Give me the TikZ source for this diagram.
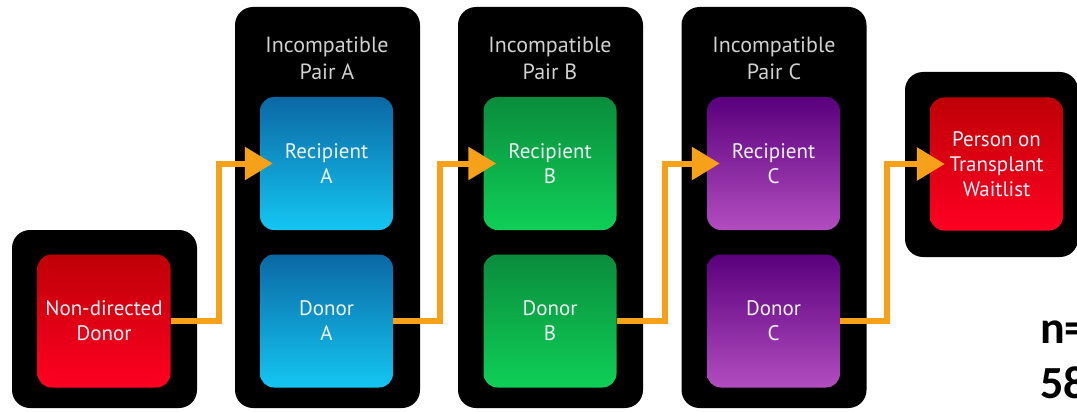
\documentclass[tikz,border=0pt]{standalone}
\usepackage{fontspec}
\setmainfont{PT Sans}
\newfontfamily\numfont{Carlito}
\usetikzlibrary{arrows.meta}
\definecolor{arrowc}{HTML}{F7A11A}
\definecolor{blueT}{HTML}{0B68A4}
\definecolor{blueB}{HTML}{14C6F2}
\definecolor{greenT}{HTML}{0A8C3C}
\definecolor{greenB}{HTML}{0FCF57}
\definecolor{purpT}{HTML}{5A007C}
\definecolor{purpB}{HTML}{B24DC0}
\definecolor{redT}{HTML}{BE0006}
\definecolor{redB}{HTML}{FF0022}
\definecolor{titlec}{HTML}{D0D0D0}
\definecolor{boxtext}{HTML}{EEF2F4}
\tikzset{
  outerbox/.style={fill=black, rounded corners=18pt, inner sep=0pt},
  innerbox/.style={rounded corners=14pt, minimum width=133pt, minimum height=133pt,
    inner sep=0pt, align=center, text=boxtext,
    font=\fontsize{21}{25}\selectfont},
  bluebox/.style={innerbox, top color=blueT, bottom color=blueB},
  greenbox/.style={innerbox, top color=greenT, bottom color=greenB},
  purpbox/.style={innerbox, top color=purpT, bottom color=purpB},
  redbox/.style={innerbox, top color=redT, bottom color=redB},
  titletext/.style={align=center, text=titlec, font=\fontsize{22}{27}\selectfont, inner sep=0pt},
  arr/.style={draw=arrowc, line width=6pt,
    -{Triangle[length=28pt, width=32pt]}},
  nlabel/.style={anchor=base west, inner sep=0pt, font=\numfont\bfseries\fontsize{46}{55}\selectfont}
}
\begin{document}
\begin{tikzpicture}[x=1pt, y=-1pt]
\useasboundingbox[fill=white] (0,0) rectangle (1077,412);
% outer black boxes
\node[outerbox, minimum width=185pt, minimum height=178pt] (nddO) at (104.5,319) {};
\node[outerbox, minimum width=185pt, minimum height=401pt] (pA) at (327.5,207.5) {};
\node[outerbox, minimum width=185pt, minimum height=401pt] (pB) at (550.5,207.5) {};
\node[outerbox, minimum width=185pt, minimum height=401pt] (pC) at (774,207.5) {};
\node[outerbox, minimum width=173pt, minimum height=185pt] (wlO) at (991.5,164.5) {};
% titles
\node[titletext] (tA) at (327,58) {Incompatible\\Pair A};
\node[titletext] (tB) at (550,58) {Incompatible\\Pair B};
\node[titletext] (tC) at (774,58) {Incompatible\\Pair C};
% inner boxes
\node[redbox] (ndd) at (104,321) {Non-directed\\Donor};
\node[bluebox] (ra) at (326.5,163.5) {Recipient\\A};
\node[bluebox] (da) at (326.5,321) {Donor\\A};
\node[greenbox] (rb) at (550,163.5) {Recipient\\B};
\node[greenbox] (db) at (550,321) {Donor\\B};
\node[purpbox] (rc) at (773.5,163.5) {Recipient\\C};
\node[purpbox] (dc) at (773.5,321) {Donor\\C};
\node[redbox] (wl) at (996.5,164) {Person on\\Transplant\\Waitlist};
% arrows
\draw[arr] (ndd.east) -- ++(48,0) |- ([xshift=13pt]ra.west);
\draw[arr] (da.east) -- ++(47,0) |- ([xshift=13pt]rb.west);
\draw[arr] (db.east) -- ++(48,0) |- ([xshift=13pt]rc.west);
\draw[arr] (dc.east) -- ++(47,0) |- ([xshift=15pt]wl.west);
% n= label (cut at the edge, as in the reference)
\begin{scope}
\clip (0,0) rectangle (1077,412);
\node[nlabel] (n1) at (1040,343) {n=};
\node[nlabel] (n2) at (1040,398) {58};
\end{scope}
\end{tikzpicture}
\end{document}
